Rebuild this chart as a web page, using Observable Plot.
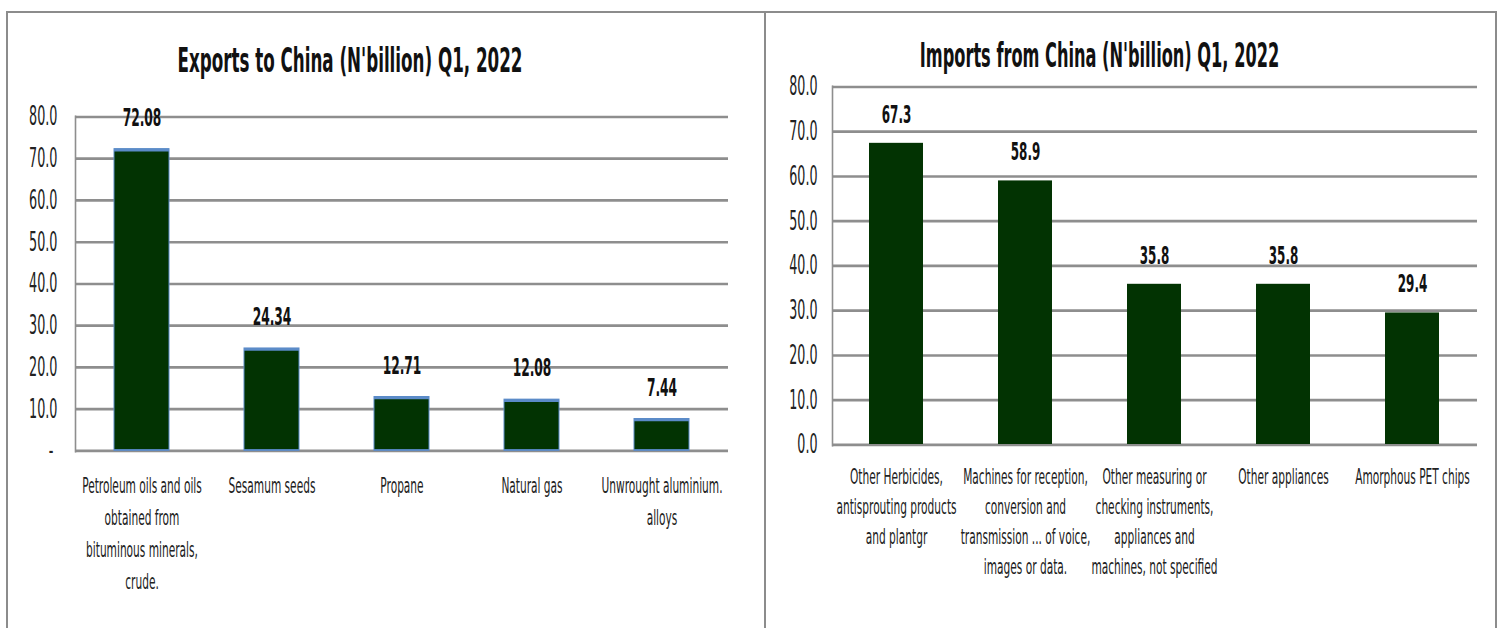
<!DOCTYPE html>
<html>
<head>
<meta charset="utf-8">
<script src="https://cdn.jsdelivr.net/npm/d3@7"></script>
<script src="https://cdn.jsdelivr.net/npm/@observablehq/plot@0.6"></script>
<style>
html, body { margin: 0; padding: 0; background: #fff; }
#page { position: relative; width: 1499px; height: 628px; overflow: hidden; background: #fff; }
.holder { position: absolute; top: 0; }
.frame { position: absolute; box-sizing: border-box; border: 2px solid #8c8c8c; border-bottom: none; }
.sep { position: absolute; background: #8c8c8c; }
</style>
</head>
<body>
<div id="page">
  <div class="holder" id="left" style="left:0px;width:765px;height:628px;"></div>
  <div class="holder" id="right" style="left:765px;width:734px;height:628px;"></div>
  <div class="frame" style="left:6px;top:11px;width:1491px;height:620px;"></div>
  <div class="sep" style="left:764px;top:11px;width:2px;height:617px;"></div>
</div>
<script>
// ---- data ----
const exportTitle = "Exports to China (N'billion) Q1, 2022";
const exportCategories = [
  "Petroleum oils and oils\nobtained from\nbituminous minerals,\ncrude.",
  "Sesamum seeds",
  "Propane",
  "Natural gas",
  "Unwrought aluminium.\nalloys"
];
const exportValues = [72.08, 24.34, 12.71, 12.08, 7.44];

const importTitle = "Imports from China (N'billion) Q1, 2022";
const importCategories = [
  "Other Herbicides,\nantisprouting products\nand plantgr",
  "Machines for reception,\nconversion and\ntransmission ... of voice,\nimages or data.",
  "Other measuring or\nchecking instruments,\nappliances and\nmachines, not specified",
  "Other appliances",
  "Amorphous PET chips"
];
const importValues = [67.3, 58.9, 35.8, 35.8, 29.4];

const yTicks = [0, 10, 20, 30, 40, 50, 60, 70, 80];

// ---- drawing ----
const S = 1.85;            // vertical stretch of the reference picture
const FULL_H = 628;
const FONT = "'Liberation Sans Narrow', 'DejaVu Sans Condensed', 'Liberation Sans', sans-serif";
const BAR = "#023302";
const GRID = "#8e8e8e";

function chart(cfg) {
  const data = cfg.categories.map((c, i) => ({name: c, value: cfg.values[i]}));
  const H = FULL_H / S;
  const plot = Plot.plot({
    width: cfg.width,
    height: H,
    marginLeft: cfg.left,
    marginRight: cfg.right,
    marginTop: cfg.top / S,
    marginBottom: (FULL_H - cfg.bottom) / S,
    style: {fontFamily: FONT, background: "transparent", color: "#111", overflow: "visible"},
    x: {domain: cfg.categories, paddingInner: 0.58, paddingOuter: 0.29, label: null},
    y: {domain: [0, 80], label: null},
    marks: [
      Plot.ruleY(yTicks, {stroke: GRID, strokeWidth: 2.6 / S}),
      Plot.frame({anchor: "left", stroke: GRID, strokeWidth: 1.6}),
      Plot.barY(data, {x: "name", y: "value", fill: BAR,
        stroke: cfg.edge || "none", strokeWidth: cfg.edge ? 1 : 0}),
      cfg.edge ? Plot.tickY(data, {x: "name", y: "value", stroke: cfg.edge, strokeWidth: 2.8 / S}) : null,
      Plot.text(data, {x: "name", y: "value", text: d => d.value.toFixed(cfg.digits),
        dy: -cfg.labelGap / S, lineAnchor: "bottom", fontWeight: "bold",
        fontSize: cfg.valueSize, fill: "#111"}),
      Plot.axisY({ticks: yTicks, tickSize: 0, tickPadding: cfg.yPad,
        tickFormat: cfg.yFormat, fontSize: cfg.ySize, fill: "#222"}),
      Plot.axisX({tickSize: 0, tickPadding: cfg.xPad / S, fontSize: cfg.xSize,
        lineHeight: cfg.xLine / S / cfg.xSize, fill: "#222"}),
      Plot.text([cfg.title], {frameAnchor: "top-left", dx: cfg.titleX - cfg.left,
        dy: (cfg.titleY - cfg.top) / S, textAnchor: "middle", lineAnchor: "bottom",
        fontWeight: "bold", fontSize: cfg.titleSize, fill: "#111"})
    ]
  });
  plot.setAttribute("viewBox", `0 0 ${cfg.width} ${H}`);
  plot.setAttribute("preserveAspectRatio", "none");
  plot.setAttribute("width", cfg.width);
  plot.setAttribute("height", FULL_H);
  plot.style.width = cfg.width + "px";
  plot.style.height = FULL_H + "px";
  plot.style.maxWidth = "none";
  plot.style.background = "transparent";
  return plot;
}

document.getElementById("left").append(chart({
  title: exportTitle, categories: exportCategories, values: exportValues,
  width: 765, left: 75, right: 37, top: 116, bottom: 450,
  titleX: 349.5, titleY: 71, titleSize: 18.6,
  edge: "#5b8bc8", digits: 2, labelGap: 24, valueSize: 13.6,
  yPad: 18, ySize: 14.2, yFormat: d => d === 0 ? "-\u00a0" : d.toFixed(1),
  xPad: 20, xSize: 11.8, xLine: 31.7
}));

document.getElementById("right").append(chart({
  title: importTitle, categories: importCategories, values: importValues,
  width: 734, left: 67, right: 22, top: 86, bottom: 444,
  titleX: 334, titleY: 66.5, titleSize: 18,
  edge: null, digits: 1, labelGap: 21, valueSize: 13.3,
  yPad: 15, ySize: 14.1, yFormat: d => d.toFixed(1),
  xPad: 17.5, xSize: 11.8, xLine: 30
}));
</script>
</body>
</html>
